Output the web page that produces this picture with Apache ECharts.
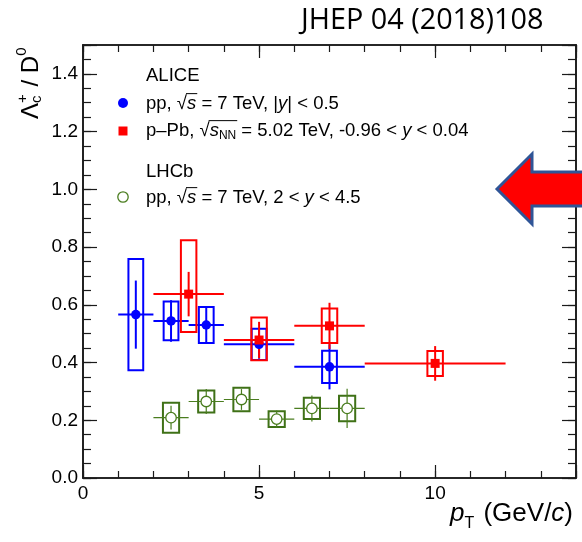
<!DOCTYPE html>
<html><head><meta charset="utf-8">
<script src="https://cdn.jsdelivr.net/npm/echarts@6/dist/echarts.min.js"></script>
<style>html,body{margin:0;padding:0;background:#fff}#c{width:582px;height:542px}</style>
</head><body><div id="c"></div>
<script>
// ---------- data ----------
// ALICE pp, sqrt(s)=7 TeV, |y|<0.5
const ppX    = [1.5, 2.5, 3.5, 5, 7];
const ppXlo  = [1, 2, 3, 4, 6];
const ppXhi  = [2, 3, 4, 6, 8];
const ppY    = [0.566, 0.544, 0.530, 0.463, 0.385];
const ppStat = [0.118, 0.072, 0.063, 0.050, 0.078];
const ppSys  = [0.193, 0.067, 0.062, 0.054, 0.056];
// ALICE p-Pb, sqrt(sNN)=5.02 TeV
const pbX     = [3, 5, 7, 10];
const pbXlo   = [2, 4, 6, 8];
const pbXhi   = [4, 6, 8, 12];
const pbY     = [0.637, 0.478, 0.527, 0.397];
const pbStat  = [0.077, 0.063, 0.080, 0.060];
const pbSysUp = [0.187, 0.078, 0.060, 0.043];
const pbSysDn = [0.131, 0.070, 0.059, 0.044];
// LHCb pp, sqrt(s)=7 TeV, 2<y<4.5
const lhX    = [2.5, 3.5, 4.5, 5.5, 6.5, 7.5];
const lhXlo  = [2, 3, 4, 5, 6, 7];
const lhXhi  = [3, 4, 5, 6, 7, 8];
const lhY    = [0.209, 0.265, 0.272, 0.204, 0.241, 0.241];
const lhStat = [0.041, 0.043, 0.036, 0.030, 0.045, 0.068];
const lhSys  = [0.052, 0.038, 0.041, 0.027, 0.037, 0.044];
// axis ticks
const xMajorTicks = [0, 5, 10];
const yMajorTicks = [0.0, 0.2, 0.4, 0.6, 0.8, 1.0, 1.2, 1.4];

// ---------- helpers ----------
const FAM = '"Liberation Sans", Arial, Helvetica, sans-serif';
const BLUE = '#0000ff', RED = '#ff0000', GREEN = '#4a7d1f', GREEN_D = '#3f7117';
const LS = 18.5;
const cv = document.createElement('canvas').getContext('2d');
function fstr(size, it) { return (it ? 'italic ' : '') + size + 'px ' + FAM; }

function textRun(x0, yc, parts, color) {
  const els = []; let x = x0; let ovX = null;
  for (const p of parts) {
    const size = p.size || LS;
    const f = fstr(size, p.it);
    cv.font = f;
    const w = cv.measureText(p.t).width;
    els.push({ type: 'text', x: x, y: yc + (p.dy || 0), silent: true,
      style: { text: p.t, font: f, fill: color, align: 'left', verticalAlign: 'middle' } });
    if (p.ovS) ovX = x - 1;
    if (p.ovE) {
      const oy = yc - LS * 0.56;
      els.push({ type: 'line', silent: true, shape: { x1: ovX, y1: oy, x2: x + w + 1, y2: oy },
        style: { stroke: color, lineWidth: 1 } });
    }
    if (!p.noAdv) x += w + (p.gap || 0);
  }
  return els;
}

function makeItems(xs, ys, lo, hi, sDn, sUp, yDn, yUp) {
  return xs.map((x, i) => [x, ys[i], lo[i], hi[i], sDn[i], sUp[i], yDn[i], yUp[i]]);
}

function errRender(color, boxColor, lw, boxLw, halfW) {
  return function (params, api) {
    const x = api.value(0), y = api.value(1);
    const p1 = api.coord([api.value(2), y]), p2 = api.coord([api.value(3), y]);
    const s1 = api.coord([x, y - api.value(4)]), s2 = api.coord([x, y + api.value(5)]);
    const b1 = api.coord([x - halfW, y + api.value(7)]), b2 = api.coord([x + halfW, y - api.value(6)]);
    return { type: 'group', children: [
      { type: 'rect', shape: { x: b1[0], y: b1[1], width: b2[0] - b1[0], height: b2[1] - b1[1] },
        style: { fill: 'none', stroke: boxColor, lineWidth: boxLw } },
      { type: 'line', shape: { x1: p1[0], y1: p1[1], x2: p2[0], y2: p2[1] }, style: { stroke: color, lineWidth: lw } },
      { type: 'line', shape: { x1: s1[0], y1: s1[1], x2: s2[0], y2: s2[1] }, style: { stroke: color, lineWidth: lw } }
    ] };
  };
}

const ppItems = makeItems(ppX, ppY, ppXlo, ppXhi, ppStat, ppStat, ppSys, ppSys);
const pbItems = makeItems(pbX, pbY, pbXlo, pbXhi, pbStat, pbStat, pbSysDn, pbSysUp);
const lhItems = makeItems(lhX, lhY, lhXlo, lhXhi, lhStat, lhStat, lhSys, lhSys);

const AX = '#1a1a1a';
function xAx(pos, interval, len, labels) {
  return { type: 'value', position: pos, min: 0, max: 14, interval: interval, gridIndex: 0,
    axisLine: { show: true, onZero: false, lineStyle: { color: AX, width: 1.6 } },
    axisTick: { show: true, inside: true, length: len, lineStyle: { color: AX, width: 1.2 } },
    axisLabel: { show: labels, margin: 6, color: '#000', fontSize: 19, fontFamily: FAM,
      formatter: v => (xMajorTicks.indexOf(v) >= 0 ? String(v) : '') },
    splitLine: { show: false } };
}
function yAx(pos, interval, len, labels) {
  return { type: 'value', position: pos, min: 0, max: 1.5, interval: interval, gridIndex: 0,
    axisLine: { show: true, onZero: false, lineStyle: { color: AX, width: 1.6 } },
    axisTick: { show: true, inside: true, length: len, lineStyle: { color: AX, width: 1.2 } },
    axisLabel: { show: labels, margin: 5, color: '#000', fontSize: 19, fontFamily: FAM,
      formatter: v => { const k = yMajorTicks.findIndex(t => Math.abs(t - v) < 1e-6); return k >= 0 ? yMajorTicks[k].toFixed(1) : ''; } },
    splitLine: { show: false } };
}

// legend and titles (text decorations)
const graphics = [];
graphics.push({ type: 'text', x: 301, y: 21, silent: true,
  style: { text: 'JHEP 04 (2018)108', font: '28.8px "Open Sans", sans-serif', fill: '#000', align: 'left', verticalAlign: 'middle' } });
graphics.push(...textRun(146, 76, [{ t: 'ALICE' }], '#000'));
graphics.push(...textRun(146, 104, [{ t: 'pp, √' }, { t: 's', it: 1, ovS: 1, ovE: 1 }, { t: ' = 7 TeV, |' }, { t: 'y', it: 1 }, { t: '| < 0.5' }], '#000'));
graphics.push(...textRun(146, 131, [{ t: 'p–Pb, √' }, { t: 's', it: 1, ovS: 1 }, { t: 'NN', size: 12, dy: 5, ovE: 1 }, { t: ' = 5.02 TeV, -0.96 < ' }, { t: 'y', it: 1 }, { t: ' < 0.04' }], '#000'));
graphics.push(...textRun(146, 172, [{ t: 'LHCb' }], '#000'));
graphics.push(...textRun(146, 198, [{ t: 'pp, √' }, { t: 's', it: 1, ovS: 1, ovE: 1 }, { t: ' = 7 TeV, 2 < ' }, { t: 'y', it: 1 }, { t: ' < 4.5' }], '#000'));
graphics.push({ type: 'circle', silent: true, shape: { cx: 123, cy: 103, r: 5 }, style: { fill: BLUE } });
graphics.push({ type: 'rect', silent: true, shape: { x: 118.5, y: 126.5, width: 9, height: 9 }, style: { fill: RED } });
graphics.push({ type: 'circle', silent: true, shape: { cx: 123, cy: 197, r: 5.2 }, style: { fill: '#fff', stroke: GREEN, lineWidth: 1.3 } });
// x-axis title
graphics.push(...textRun(450, 514, [{ t: 'p', it: 1, size: 26 }, { t: 'T', size: 16, dy: 10, gap: 2 }, { t: ' (GeV/', size: 26 }, { t: 'c', it: 1, size: 26 }, { t: ')', size: 26 }], '#000'));
// y-axis title (rotated)
graphics.push({ type: 'group', x: 31, y: 119, rotation: Math.PI / 2, silent: true,
  children: textRun(0, 0, [{ t: 'Λ', size: 24 }, { t: 'c', size: 15, dy: 6, noAdv: 1 }, { t: '+', size: 15, dy: -8, gap: 1 }, { t: ' / D', size: 24 }, { t: '0', size: 15, dy: -9 }], '#000') });
// arrow
graphics.push({ type: 'polygon', silent: true, z: 100,
  shape: { points: [[497, 189], [532, 154], [532, 172], [592, 172], [592, 206], [532, 206], [532, 224]] },
  style: { fill: '#ff0000', stroke: '#2f5597', lineWidth: 3, lineJoin: 'miter' } });

const chart = echarts.init(document.getElementById('c'), null, { renderer: 'canvas' });
chart.setOption({
  animation: false,
  backgroundColor: '#fff',
  grid: { left: 83, right: 6, top: 45, bottom: 64, containLabel: false },
  xAxis: [xAx('bottom', 1, 7, false), xAx('bottom', 5, 13, true), xAx('top', 1, 7, false), xAx('top', 5, 13, false)],
  yAxis: [yAx('left', 0.05, 8, false), yAx('left', 0.2, 14, true), yAx('right', 0.05, 8, false), yAx('right', 0.2, 14, false)],
  series: [
    { type: 'custom', name: 'ppSys', data: ppItems, encode: { x: 0, y: 1 }, renderItem: errRender(BLUE, BLUE, 2, 2, 0.21), silent: true },
    { type: 'scatter', name: 'pp', data: ppItems.map(d => [d[0], d[1]]), symbol: 'circle', symbolSize: 9.5, itemStyle: { color: BLUE, opacity: 1 }, silent: true },
    { type: 'custom', name: 'pbSys', data: pbItems, encode: { x: 0, y: 1 }, renderItem: errRender(RED, RED, 2, 2, 0.22), silent: true },
    { type: 'scatter', name: 'pPb', data: pbItems.map(d => [d[0], d[1]]), symbol: 'rect', symbolSize: 9, itemStyle: { color: RED, opacity: 1 }, silent: true },
    { type: 'custom', name: 'lhSys', data: lhItems, encode: { x: 0, y: 1 }, renderItem: errRender(GREEN, GREEN_D, 1.2, 2, 0.23), silent: true },
    { type: 'scatter', name: 'LHCb', data: lhItems.map(d => [d[0], d[1]]), symbol: 'circle', symbolSize: 10.5, itemStyle: { color: '#fff', borderColor: GREEN, borderWidth: 1.3, opacity: 1 }, silent: true }
  ],
  graphic: graphics
});
</script></body></html>
